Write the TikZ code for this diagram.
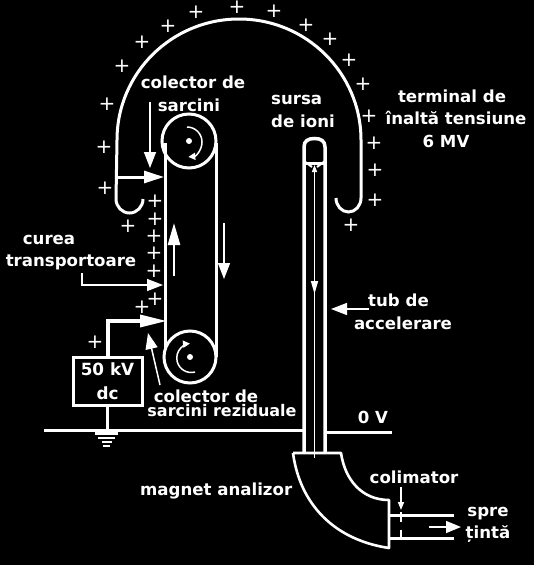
\documentclass[tikz,border=0pt]{standalone}
\usepackage{fontspec}
\setmainfont{DejaVu Sans}[BoldFont={DejaVu Sans Bold}]
\usetikzlibrary{arrows.meta}
\tikzset{
 ln/.style={draw=white,line width=3pt},
 thinln/.style={draw=white,line width=1.5pt},
 tipa/.style={-{Triangle[length=20pt,width=12pt,fill=white]}},
 tipb/.style={-{Triangle[length=16pt,width=12pt,fill=white]}},
 tipc/.style={-{Triangle[length=7pt,width=7pt,fill=white]}},
 lbl/.style={text=white,font=\bfseries\fontsize{16.6}{22.5}\selectfont,align=center,inner sep=0pt},
 plus/.style={text=white,font=\fontsize{20}{20}\selectfont,inner sep=0pt}
}
\begin{document}
\begin{tikzpicture}[x=1pt,y=-1pt]
\fill[black] (0,0) rectangle (534,565);
\useasboundingbox (0,0) rectangle (534,565);
\foreach \p in {(196,12),(237,7.5),(274,11),(168,26),(306,25),(142,42),(330,39),(122,66),(349,60),(107,104),(363,84),(104,147),(369,116),(374,143),(375,170),(375,200),(351,225),(105,188),(128,226),(155,201),(155,219),(154,236),(154,253),(154,271),(155,299),(142,307),(95,342)}
 \node[plus] at \p {+};
% terminal
\draw[ln] (143,199) arc (0:180:13.5 and 14) -- (117,140) arc (180:360:122 and 121) -- (361,198) arc (0:180:12.5 and 14);
% belt
\draw[ln] (165,143) -- (165,350);
\draw[ln] (216,143) -- (216,357);
\node[circle,draw=white,line width=3pt,minimum size=54pt,inner sep=0pt] (p1) at (189,141) {};
\node[circle,draw=white,line width=3pt,minimum size=52pt,inner sep=0pt] (p2) at (190,357) {};
\fill[white] (p1.center) circle (3pt) (p2.center) circle (3pt);
\draw[thinln,tipc] (187,127) arc (-90:85:15);
\draw[thinln,tipc] (195,372) arc (75:265:14.5);
% belt arrows
\draw[ln,line width=2.5pt,-{Triangle[length=22pt,width=12pt,fill=white]}] (174,276) -- (174,223);
\draw[thinln,tipb] (224,223) -- (224,279);
% collector
\coordinate (c1) at (117,177);
\coordinate (c2) at (164,177);
\draw[ln,tipa] (c1) -- (c2);
\node[lbl] (colsar) at (193,94) {colector de\\\hspace*{-8pt}sarcini};
\coordinate (c3) at (150,102);
\coordinate (c4) at (150,168);
\draw[thinln,tipb] (c3) -- (c4);
% curea
\node[lbl] (curea) at (71,252.5) {\hspace*{-44pt}curea\\transportoare};
\coordinate (b1) at (82,273);
\coordinate (b2) at (82,285);
\coordinate (b3) at (163,285);
\draw[thinln,tipb] (b1) -- (b2) -- (b3);
% 50kV
\node[draw=white,line width=3pt,lbl,minimum width=69pt,minimum height=48pt,font=\bfseries\fontsize{16.8}{24}\selectfont] (dc) at (107.5,381) {50 kV\\dc};
\coordinate (w1) at (108,321);
\coordinate (w2) at (167,321);
\draw[line width=3.5pt,draw=white,-{Triangle[length=27pt,width=12pt,fill=white]}] (dc.north -| w1) -- (w1) -- (w2);
\coordinate (g) at (107,431);
\draw[ln] (dc.south -| g) -- (g);
\coordinate (l1) at (44,430);
\coordinate (l2) at (304,430);
\draw[ln] (l1) -- (l2);
\draw[ln] (95,433.5) -- (118,433.5);
\draw[ln,line width=2pt] (98,438) -- (115,438);
\draw[ln,line width=2pt] (102,442) -- (112,442);
\draw[ln,line width=2pt] (103,446) -- (110,446);
% residual
\node[lbl] (res1) at (206,396) {colector de};
\node[lbl,font=\bfseries\fontsize{16}{20}\selectfont] (res2) at (222,411) {sarcini reziduale};
\coordinate (r1) at (160,385);
\coordinate (r2) at (148,333);
\draw[thinln,tipb] (r1) -- (r2);
% source tube
\node[lbl,align=left] (sursa) at (303,111.5) {sursa\\de ioni};
\draw[ln,line width=3.5pt] (304,452) -- (304,147) .. controls (304,141) and (308,138.5) .. (314.5,138.5) .. controls (321,138.5) and (325,141) .. (325,147) -- (325,452);
\draw[ln] (304,163) -- (325,163);
\draw[ln,line width=2pt] (304,161) -- (312,167) (325,161) -- (317,167);
\draw[thinln] (314.5,168) -- (314.5,458);
\draw[thinln,{Triangle[length=7pt,width=5pt,fill=white]}-{Triangle[length=13pt,width=7pt,fill=white]}] (314.5,165) -- (314.5,294);
% 0V
\coordinate (z1) at (326,432);
\coordinate (z2) at (392,432);
\draw[ln] (z1) -- (z2);
\node[lbl] (zv) at (373,417) {0 V};
% tube label
\node[lbl] (tub) at (403,312) {\hspace*{-9pt}tub de\\accelerare};
\coordinate (t1) at (369,309);
\coordinate (t2) at (331,309);
\draw[thinln,tipb] (t1) -- (t2);
% terminal label
\node[lbl] (term) at (456,118.5) {\hspace*{-8pt}terminal de\\înaltă tensiune\\\hspace*{-20pt}6 MV};
% magnet
\draw[ln,line width=2.6pt,line join=round] (293,453) -- (341,453) .. controls (345,480) and (362,500) .. (389,500) -- (389,548) .. controls (335,540) and (300,505) .. (293,453);
\draw[ln] (389,515) -- (454,515);
\draw[ln] (389,538) -- (454,538);
\draw[ln,line width=2.5pt] (401,512) -- (401,522) (401,530) -- (401,538);
\coordinate (k1) at (401,487);
\coordinate (k2) at (401,510);
\draw[thinln,-{Triangle[length=8pt,width=6pt,fill=white]}] (k1) -- (k2);
\node[lbl] (colim) at (414,477) {colimator};
\node[lbl,anchor=west] (mag) at (140,491) {magnet analizor};
\coordinate (s1) at (429,527);
\coordinate (s2) at (461,527);
\draw[thinln,-{Triangle[length=15pt,width=12pt,fill=white]}] (s1) -- (s2);
\node[lbl] (spre) at (488,525) {spre\\țintă};
\end{tikzpicture}
\end{document}
